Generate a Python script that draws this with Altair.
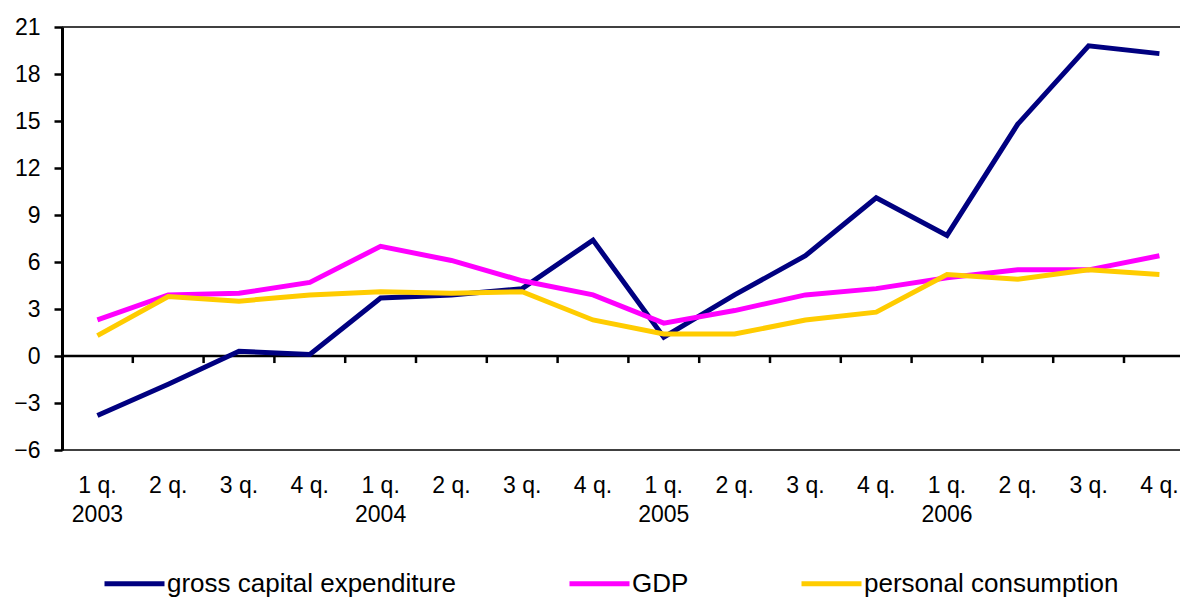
import altair as alt
import pandas as pd

FONT = "Liberation Sans"

quarters = ["1 q.", "2 q.", "3 q.", "4 q."] * 4
years = ["2003", "2004", "2005", "2006"]
series_names = ["gross capital expenditure", "GDP", "personal consumption"]
colors = ["#000080", "#FF00FF", "#FFCC00"]

gross_capital = [-3.8, -1.8, 0.3, 0.1, 3.7, 3.9, 4.3, 7.4, 1.2, 3.9, 6.4, 10.1, 7.7, 14.8, 19.8, 19.3]
gdp = [2.3, 3.9, 4.0, 4.7, 7.0, 6.1, 4.8, 3.9, 2.1, 2.9, 3.9, 4.3, 5.0, 5.5, 5.5, 6.4]
consumption = [1.3, 3.8, 3.5, 3.9, 4.1, 4.0, 4.1, 2.3, 1.4, 1.4, 2.3, 2.8, 5.2, 4.9, 5.5, 5.2]

y_ticks = list(range(-6, 22, 3))

n = len(quarters)
idx = list(range(1, n + 1))
rows = []
for name, vals in zip(series_names, [gross_capital, gdp, consumption]):
    for i, v in zip(idx, vals):
        rows.append({"idx": i, "value": v, "series": name})
df = pd.DataFrame(rows)

qdf = pd.DataFrame({"idx": idx, "label": quarters})
ydf = pd.DataFrame({"idx": [1, 5, 9, 13], "label": years})
tdf = pd.DataFrame({"pos": [i + 0.5 for i in range(1, n)]})

# plot area 1118 px wide; one quarter is ~70.8 px, the right end is cut off like the reference
PLOT_W = 1118
PLOT_H = 423
BAND = 70.8
xscale = alt.Scale(domain=[0.5, 0.5 + PLOT_W / BAND], nice=False, zero=False)
yscale = alt.Scale(domain=[-6, 21], nice=False, zero=False)

base_x = alt.X("idx:Q", scale=xscale, axis=None)

lines = alt.Chart(df).mark_line(strokeWidth=5).encode(
    x=base_x,
    y=alt.Y(
        "value:Q",
        scale=yscale,
        axis=alt.Axis(
            values=y_ticks,
            title=None,
            grid=False,
            domainColor="black",
            domainWidth=3,
            tickColor="black",
            tickWidth=2.5,
            tickSize=8,
            labelFont=FONT,
            labelFontSize=23,
            labelColor="black",
            labelPadding=14,
        ),
    ),
    color=alt.Color(
        "series:N",
        sort=series_names,
        scale=alt.Scale(domain=series_names, range=colors),
        legend=alt.Legend(
            title=None,
            orient="none",
            legendX=40,
            legendY=524,
            direction="horizontal",
            symbolType="stroke",
            symbolSize=3600,
            symbolStrokeWidth=5,
            labelFont=FONT,
            labelFontSize=26,
            labelColor="black",
            labelOffset=0,
            columnPadding=102,
            padding=0,
            labelLimit=0,
        ),
    ),
    order=alt.Order("idx:Q"),
)

top_rule = alt.Chart().mark_rule(color="black", strokeWidth=1.3).encode(y=alt.datum(21))
bottom_rule = alt.Chart().mark_rule(color="black", strokeWidth=1.3).encode(y=alt.datum(-6))
zero_rule = alt.Chart().mark_rule(color="black", strokeWidth=2.5).encode(y=alt.datum(0))
ticks = alt.Chart(tdf).mark_rule(color="black", strokeWidth=2.5).encode(
    x=alt.X("pos:Q", scale=xscale, axis=None),
    y=alt.datum(0),
    y2=alt.datum(-0.45),
)

qlabels = alt.Chart(qdf).mark_text(
    font=FONT, fontSize=23, color="black", baseline="alphabetic", dy=43
).encode(x=base_x, y=alt.datum(-6), text="label:N")

ylabels = alt.Chart(ydf).mark_text(
    font=FONT, fontSize=23, color="black", baseline="alphabetic", dy=72
).encode(x=base_x, y=alt.datum(-6), text="label:N")

chart = alt.layer(
    top_rule, bottom_rule, zero_rule, ticks, lines, qlabels, ylabels
).properties(
    width=PLOT_W,
    height=PLOT_H,
    autosize=alt.AutoSizeParams(type="none"),
    padding={"left": 54, "top": 19, "right": 0, "bottom": 149},
).configure_view(stroke=None)

chart.save("out.html", embed_options={"renderer": "svg", "actions": False})
